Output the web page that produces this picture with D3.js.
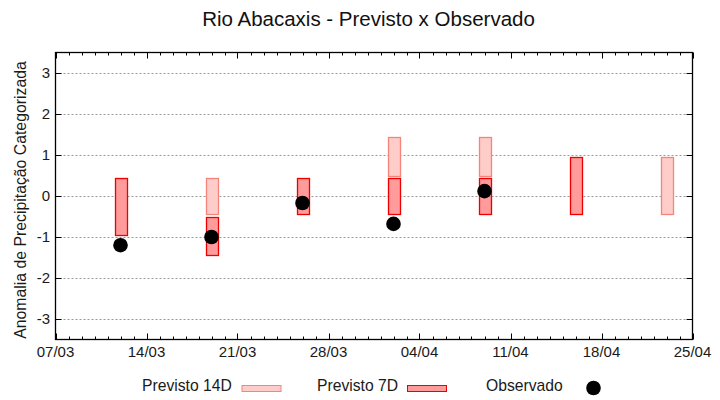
<!DOCTYPE html>
<html><head><meta charset="utf-8">
<script src="https://cdn.jsdelivr.net/npm/d3@7"></script>
<style>body{margin:0;background:#fff}svg{display:block;font-family:"Liberation Sans",Arial,sans-serif}</style>
</head><body><svg id="c" width="720" height="400"></svg>
<script>
const title = "Rio Abacaxis - Previsto x Observado";
const yLabel = "Anomalia de Precipitação Categorizada";
const dates7 = ["2024-03-12","2024-03-19","2024-03-26","2024-04-02","2024-04-09","2024-04-16"];
const low7 =   [-0.95, -1.45, -0.45, -0.45, -0.45, -0.45];
const high7 =  [ 0.45, -0.5,   0.45,  0.45,  0.45,  0.95];
const dates14 = ["2024-03-19","2024-04-02","2024-04-09","2024-04-23"];
const low14 =  [-0.45, 0.5, 0.5, -0.45];
const high14 = [ 0.45, 1.45, 1.45, 0.95];
const datesObs = ["2024-03-12","2024-03-19","2024-03-26","2024-04-02","2024-04-09"];
const obs = [-1.2, -1.0, -0.17, -0.68, 0.12];
const yTicks = [-3,-2,-1,0,1,2,3];
const xTickDates = ["2024-03-07","2024-03-14","2024-03-21","2024-03-28","2024-04-04","2024-04-11","2024-04-18","2024-04-25"];
const legendLabels = ["Previsto 14D","Previsto 7D","Observado"];

const parse = d3.utcParse("%Y-%m-%d");
const fmt = d3.utcFormat("%d/%m");
const svg = d3.select("#c");
const L=55.5, R=692.5, T=52.5, B=339.5;
const x = d3.scaleUtc().domain([parse("2024-03-07"), parse("2024-04-25")]).range([L,R]);
const y = d3.scaleLinear().domain([-3.5,3.5]).range([B,T]);

// grid
svg.append("g").selectAll("line").data(yTicks).join("line")
  .attr("x1",L).attr("x2",R).attr("y1",d=>Math.round(y(d))+0.5).attr("y2",d=>Math.round(y(d))+0.5)
  .attr("stroke","#999").attr("stroke-dasharray","2,2").attr("stroke-width",1);

const bw = 12;
function bars(dates, lo, hi, fill, stroke){
  svg.append("g").selectAll("rect").data(dates.map((d,i)=>({d:parse(d),lo:lo[i],hi:hi[i]}))).join("rect")
    .attr("x",d=>Math.round(x(d.d))-bw/2+0.5).attr("width",bw)
    .attr("y",d=>Math.round(y(d.hi))+0.5).attr("height",d=>Math.round(y(d.lo))-Math.round(y(d.hi)))
    .attr("fill",fill).attr("stroke",stroke).attr("stroke-width",1.3);
}
bars(dates14, low14, high14, "#ffcdc9", "#f4847c");
bars(dates7, low7, high7, "#ff9b9b", "#ee0000");

svg.append("g").selectAll("circle").data(datesObs.map((d,i)=>({d:parse(d),v:obs[i]}))).join("circle")
  .attr("cx",d=>x(d.d)).attr("cy",d=>y(d.v)).attr("r",7.3).attr("fill","#000");

// axes
const minor = d3.utcDay.range(parse("2024-03-07"), parse("2024-04-26"));
const majorSet = new Set(xTickDates);
const axG = svg.append("g").attr("stroke","#000");
minor.forEach(d=>{
  const isMaj = majorSet.has(d3.utcFormat("%Y-%m-%d")(d));
  const len = isMaj?6:3;
  const xx = Math.round(x(d))+0.5;
  axG.append("line").attr("x1",xx).attr("x2",xx).attr("y1",B).attr("y2",B-len);
  axG.append("line").attr("x1",xx).attr("x2",xx).attr("y1",T).attr("y2",T+len);
});
yTicks.forEach(v=>{
  const yy = Math.round(y(v))+0.5;
  axG.append("line").attr("x1",L).attr("x2",L+6).attr("y1",yy).attr("y2",yy);
  axG.append("line").attr("x1",R).attr("x2",R-6).attr("y1",yy).attr("y2",yy);
});
svg.append("rect").attr("x",L).attr("y",T).attr("width",R-L).attr("height",B-T)
  .attr("fill","none").attr("stroke","#000").attr("stroke-width",1.3);

svg.append("g").selectAll("text").data(yTicks).join("text")
  .attr("x",50).attr("y",d=>y(d)+5).attr("text-anchor","end").attr("font-size",15).attr("fill","#1a1a1a").text(d=>d);
svg.append("g").selectAll("text").data(xTickDates).join("text")
  .attr("x",d=>x(parse(d))).attr("y",357).attr("text-anchor","middle").attr("font-size",15).attr("fill","#1a1a1a").text(d=>fmt(parse(d)));

svg.append("text").attr("x",368.5).attr("y",26).attr("text-anchor","middle").attr("font-size",20.5).attr("fill","#111").text(title);
svg.append("text").attr("transform","translate(26,200) rotate(-90)").attr("text-anchor","middle").attr("font-size",15.8).attr("fill","#1a1a1a").text(yLabel);

// legend
const lg = svg.append("g").attr("font-size",15.7).attr("fill","#1a1a1a");
lg.append("text").attr("x",142).attr("y",391).text(legendLabels[0]);
lg.append("rect").attr("x",242).attr("y",385.5).attr("width",39).attr("height",6).attr("fill","#ffcdc9").attr("stroke","#f4847c");
lg.append("text").attr("x",317).attr("y",391).text(legendLabels[1]);
lg.append("rect").attr("x",407.5).attr("y",385.5).attr("width",39).attr("height",6).attr("fill","#ff9b9b").attr("stroke","#ee0000");
lg.append("text").attr("x",486).attr("y",391).text(legendLabels[2]);
lg.append("circle").attr("cx",593.5).attr("cy",388).attr("r",7.3).attr("fill","#000");
</script></body></html>
